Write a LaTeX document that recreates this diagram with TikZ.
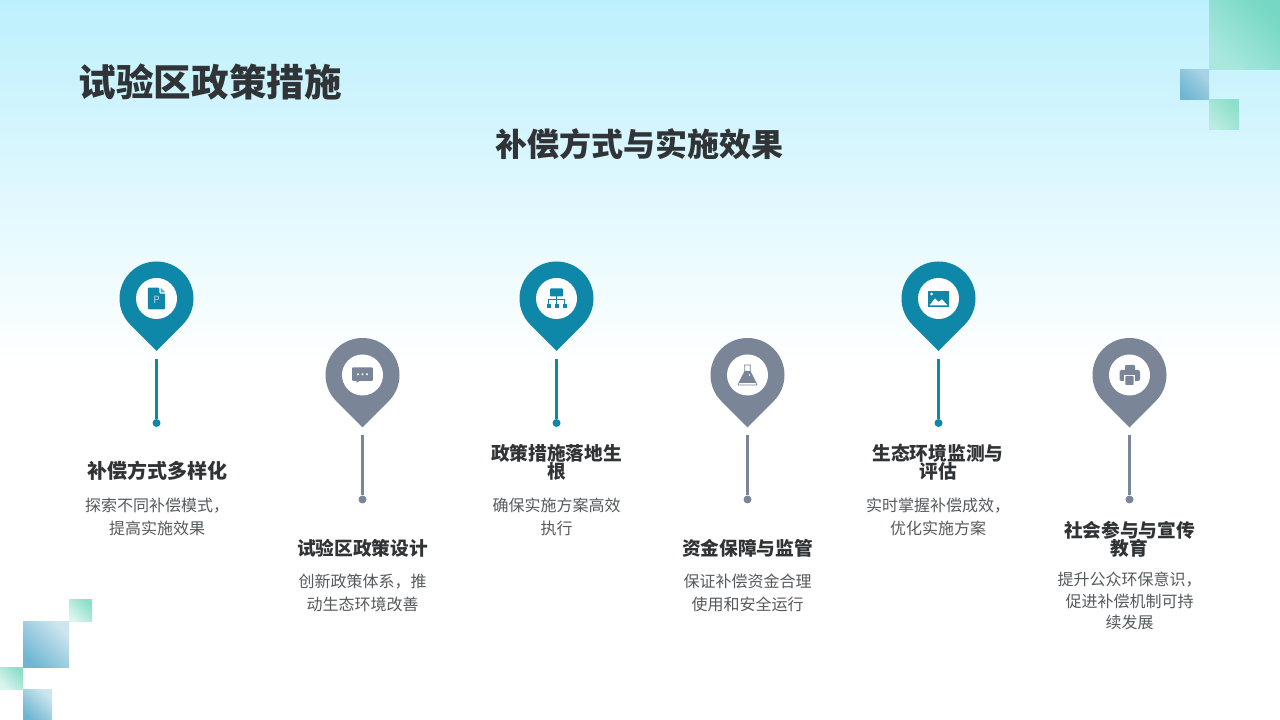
\documentclass[tikz,border=0pt]{standalone}
\usepackage{fontspec}
\usepackage{xcolor}
\setmainfont{Noto Sans CJK SC}
\usetikzlibrary{calc}
\definecolor{pinteal}{HTML}{0E87A8}
\definecolor{pingrey}{HTML}{7A8598}
\definecolor{headtext}{HTML}{303436}
\definecolor{bodytext}{HTML}{555A5E}
\definecolor{tileblue}{HTML}{6FB6D2}
\definecolor{tilegreen}{HTML}{8CDFCA}
\newcommand{\tightlines}{\lineskiplimit-20pt\relax}
\tikzset{
	titletext/.style={text=headtext, inner sep=0pt, font=\fontsize{#1}{#1}\selectfont\bfseries},
	headline/.style={text=headtext, inner sep=0pt, align=center, font=\fontsize{18.7}{18}\selectfont\bfseries, execute at begin node=\tightlines},
	bodyline/.style={text=bodytext, inner sep=0pt, align=center, font=\fontsize{16}{23}\selectfont},
	dotmark/.style={circle, inner sep=0pt, minimum size=8pt},
	facemark/.style={circle, fill=white, inner sep=0pt, minimum size=41pt},
	stemline/.style={line width=2.6pt},
	bluetile/.style={top color=#1, bottom color=tileblue, shading angle=-45},
	greentile/.style={top color=tilegreen, bottom color=#1, shading angle=-45}
}
% pin with stem and end dot: name, x, y of the circle centre, colour
\newcommand{\pinmark}[4]{
	\fill[#4] ($(#2pt,#3pt)+(-45:37pt)$) arc[start angle=-45, end angle=225, radius=37pt] -- (#2pt,#3pt-52.5pt) -- cycle;
	\node[facemark] (#1) at (#2pt,#3pt){};
	\coordinate (#1top) at (#2pt,#3pt-60.5pt);
	\node[dotmark, fill=#4] (#1dot) at (#2pt,#3pt-124.5pt){};
	\draw[stemline, #4] (#1top) -- (#1dot);
}
\begin{document}
\begin{tikzpicture}
	% background
	\path[use as bounding box] (0pt, 0pt) rectangle (1280pt, 720pt);
	\fill[white] (0pt, 0pt) rectangle (1280pt, 720pt);
	\shade[top color={rgb,255:red,189;green,240;blue,253}, bottom color=white] (0pt, 355pt) rectangle (1280pt, 720pt);

	% corner tiles
	\shade[top color={rgb,255:red,118;green,216;blue,196}, bottom color={rgb,255:red,170;green,232;blue,222}, shading angle=-45] (1209pt, 650pt) rectangle (1280pt, 720pt);
	\shade[bluetile=tileblue!60!white] (1180pt, 620pt) rectangle (1209pt, 650pt);
	\shade[greentile=tilegreen!60!white] (1209pt, 590pt) rectangle (1239pt, 620pt);
	\shade[greentile=tilegreen!30!white] (69pt, 98pt) rectangle (92pt, 120pt);
	\shade[bluetile=tileblue!35!white] (23pt, 52pt) rectangle (69pt, 98pt);
	\shade[greentile=tilegreen!30!white] (0pt, 30pt) rectangle (23pt, 52pt);
	\shade[bluetile=tileblue!35!white] (23pt, 0pt) rectangle (52pt, 30pt);

	% titles
	\node[titletext=37.6, anchor=west] (maintitle) at (78.5pt, 638pt){试验区政策措施};
	\node[titletext=32] (subtitle) at (639.5pt, 576pt){补偿方式与实施效果};

	% pins
	\pinmark{payform}{156.5}{421.5}{pinteal}
	\pinmark{design}{362.5}{345}{pingrey}
	\pinmark{rooted}{556.5}{421.5}{pinteal}
	\pinmark{funds}{747.5}{345}{pingrey}
	\pinmark{watch}{938.5}{421.5}{pinteal}
	\pinmark{public}{1129.5}{345}{pingrey}

	% file icon
	\fill[pinteal, rounded corners=1pt] ($(payform)+(-8.7pt,10.8pt)$) -- ++(11.5pt,0pt) -- ++(0pt,-5.9pt) -- ++(5.9pt,0pt) -- ++(0pt,-15.7pt) -- ++(-17.4pt,0pt) -- cycle;
	\fill[pinteal!70!white] ($(payform)+(4pt,10.8pt)$) -- ++(4.7pt,-4.7pt) -- ++(-4.7pt,0pt) -- cycle;
	\node[text=white!70!pinteal, inner sep=0pt, font=\fontsize{10}{10}\selectfont] (fileletter) at ($(payform)+(0pt,-1pt)$){P};

	% chat icon
	\fill[pingrey, rounded corners=1pt] ($(design)+(-10.3pt,7.7pt)$) rectangle ($(design)+(10.3pt,-6pt)$);
	\fill[pingrey] ($(design)+(-6pt,-5.5pt)$) -- ++(0pt,-2.5pt) -- ++(3.5pt,2.5pt) -- cycle;
	\foreach \dx in {-4.5,0,4.5}{
		\fill[white] ($(design)+(\dx pt,0.7pt)$) circle (1.1pt);
	}

	% org chart icon
	\fill[pinteal, rounded corners=0.8pt] ($(rooted)+(-6.5pt,10pt)$) rectangle ($(rooted)+(6.5pt,2pt)$);
	\draw[pinteal, line width=0.7pt] ($(rooted)+(0pt,2pt)$) -- ($(rooted)+(0pt,-6pt)$);
	\draw[pinteal, line width=0.7pt] ($(rooted)+(-8pt,-6pt)$) |- ($(rooted)+(0pt,-1.3pt)$) -| ($(rooted)+(8pt,-6pt)$);
	\foreach \dx in {-8,0,8}{
		\fill[pinteal] ($(rooted)+(\dx pt-2pt,-5.8pt)$) rectangle ($(rooted)+(\dx pt+2pt,-9.6pt)$);
	}

	% flask icon
	\draw[pingrey, line width=0.7pt, line join=round] ($(funds)+(-3.7pt,10pt)$) -- ++(7.4pt,0pt) ($(funds)+(-2.8pt,10pt)$) -- ++(0pt,-7pt) -- ++(-6.8pt,-13pt) -- ++(19.2pt,0pt) -- ++(-6.8pt,13pt) -- ++(0pt,7pt);
	\fill[pingrey] ($(funds)+(-2.8pt,4pt)$) -- ++(5.6pt,0pt) -- ++(6.2pt,-12pt) -- ++(-18pt,0pt) -- cycle;
	\fill[white] ($(funds)+(2pt,0pt)$) circle (0.9pt);

	% picture icon
	\fill[pinteal] ($(watch)+(-10.5pt,7.7pt)$) rectangle ($(watch)+(10.5pt,-8.3pt)$);
	\fill[white] ($(watch)+(-9pt,-6.8pt)$) -- ++(5.5pt,7pt) -- ++(3.5pt,-3.5pt) -- ++(3.5pt,2.5pt) -- ++(5.5pt,-6pt) -- cycle;
	\fill[white] ($(watch)+(-7pt,4.5pt)$) circle (1.5pt);

	% printer icon
	\fill[pingrey, rounded corners=1pt] ($(public)+(-4.5pt,10pt)$) rectangle ($(public)+(5.5pt,4pt)$);
	\fill[pingrey, rounded corners=2pt] ($(public)+(-10pt,5pt)$) rectangle ($(public)+(10.5pt,-6pt)$);
	\fill[white] ($(public)+(-5.2pt,0pt)$) rectangle ($(public)+(5.2pt,-10.8pt)$);
	\fill[pingrey, rounded corners=0.8pt] ($(public)+(-4.2pt,-1pt)$) rectangle ($(public)+(4.2pt,-10pt)$);

	% texts
	\node[headline, font=\fontsize{20}{18}\selectfont\bfseries] (payformhead) at (157pt, 249pt){补偿方式多样化};
	\node[bodyline] (payformtext) at (157pt, 203.5pt){探索不同补偿模式，\\提高实施效果};
	\node[headline] (designhead) at (362.5pt, 172pt){试验区政策设计};
	\node[bodyline] (designtext) at (362.5pt, 127pt){创新政策体系，推\\动生态环境改善};
	\node[headline] (rootedhead) at (556.5pt, 258pt){政策措施落地生\\根};
	\node[bodyline] (rootedtext) at (556.5pt, 203.5pt){确保实施方案高效\\执行};
	\node[headline] (fundshead) at (747.5pt, 172pt){资金保障与监管};
	\node[bodyline] (fundstext) at (747.5pt, 127pt){保证补偿资金合理\\使用和安全运行};
	\node[headline] (watchhead) at (938pt, 258pt){生态环境监测与\\评估};
	\node[bodyline] (watchtext) at (938pt, 203.5pt){实时掌握补偿成效，\\优化实施方案};
	\node[headline] (publichead) at (1129.5pt, 181pt){社会参与与宣传\\教育};
	\node[bodyline, font=\fontsize{16}{21.5}\selectfont] (publictext) at (1129.5pt, 118.7pt){提升公众环保意识，\\促进补偿机制可持\\续发展};
\end{tikzpicture}
\end{document}
